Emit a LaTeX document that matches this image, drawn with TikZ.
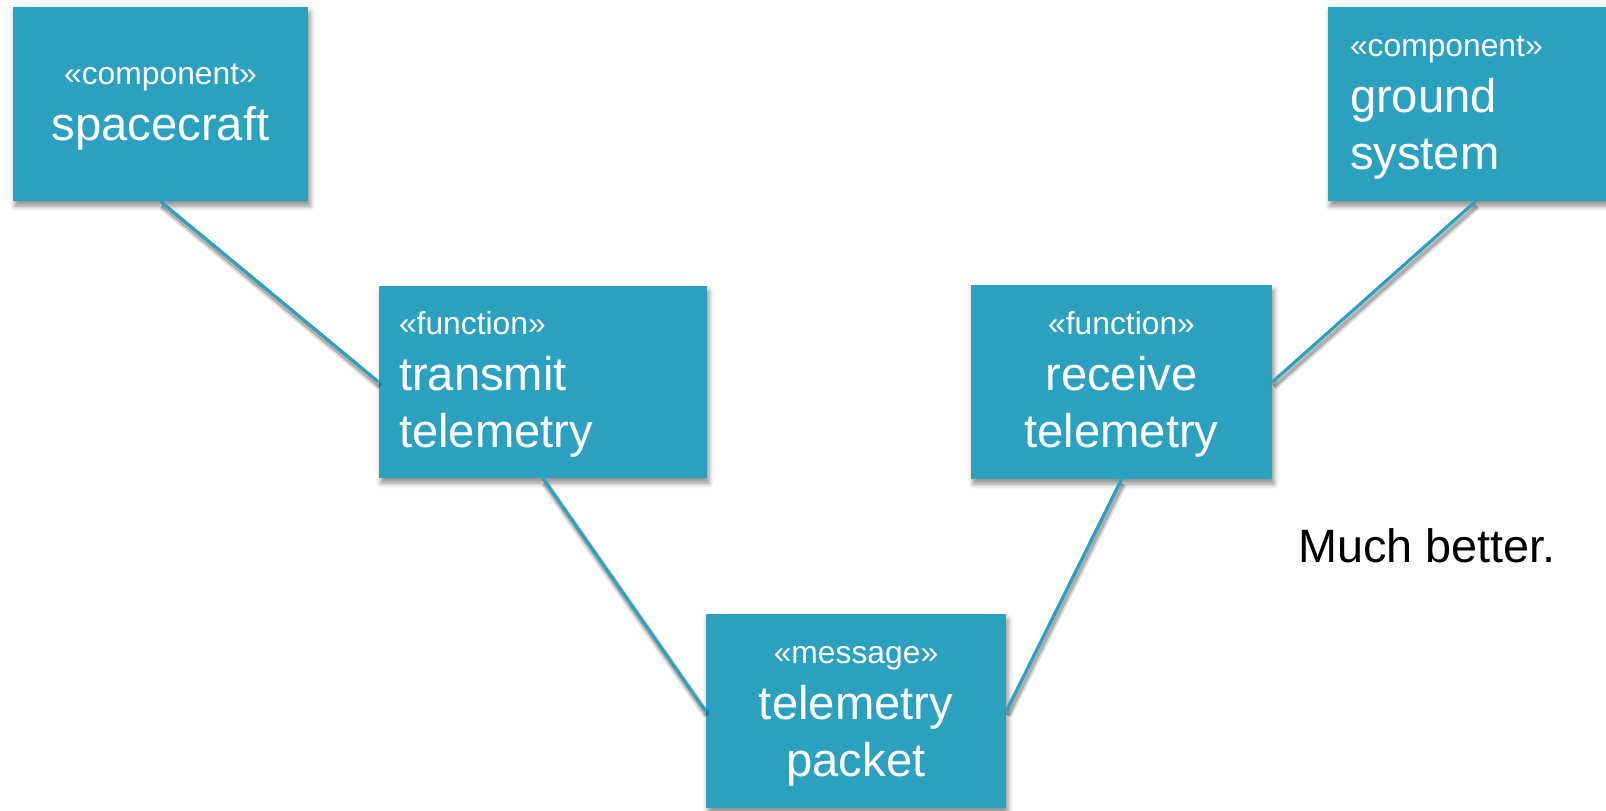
\documentclass[tikz,border=0pt]{standalone}
\usepackage{fontspec}
\setmainfont{Liberation Sans}
\usetikzlibrary{shadows.blur}
\definecolor{tealbox}{RGB}{44,161,191}
\newcommand\lstrut{\rule[-6pt]{0pt}{20.5pt}}
\newcommand\stereo[1]{{\fontsize{15.9}{28.25}\selectfont #1}}
\newcommand\umlconn[2]{%
  \draw[linkshadowwide] ([shift={(1.5,4.5)}]#1) -- ([shift={(1.5,4.5)}]#2);
  \draw[linkshadow] ([shift={(1.5,4.5)}]#1) -- ([shift={(1.5,4.5)}]#2);
  \draw[link] (#1) -- (#2);}
\begin{document}
\begin{tikzpicture}[x=0.5pt,y=-0.5pt,
  umlbox/.style={rectangle, fill=tealbox, text=white, inner ysep=0pt,
    font=\fontsize{23.6}{28.25}\selectfont,
    blur shadow={shadow xshift=1pt, shadow yshift=-2.5pt, shadow blur radius=2.5pt, shadow opacity=45}},
  link/.style={draw=tealbox, line width=1.6pt},
  linkshadow/.style={draw=black, draw opacity=0.22, line width=2pt},
  linkshadowwide/.style={draw=black, draw opacity=0.12, line width=4pt},
  note/.style={anchor=base west, inner sep=0pt, text=black, font=\fontsize{23.4}{28}\selectfont}
]
\useasboundingbox (0,0) rectangle (1606,810);
\clip (0,0) rectangle (1606,810);

\node[umlbox, minimum height=97pt, inner xsep=5pt, text width=137.5pt, align=center]
  (sc) at (160.5,104) {\lstrut\stereo{«component»}\\\lstrut spacecraft};
\node[umlbox, minimum height=97pt, inner xsep=11pt, text width=125.5pt, align=left]
  (gs) at (1475.5,104) {\lstrut\stereo{«component»}\\ground\\\lstrut system};
\node[umlbox, minimum height=96pt, inner xsep=10pt, text width=144pt, align=left]
  (tt) at (543,382) {\lstrut\stereo{«function»}\\transmit\\\lstrut telemetry};
\node[umlbox, minimum height=97pt, inner xsep=5pt, text width=140.5pt, align=center]
  (rt) at (1121.5,382) {\lstrut\stereo{«function»}\\receive\\\lstrut telemetry};
\node[umlbox, minimum height=97pt, inner xsep=5pt, text width=140pt, align=center]
  (tp) at (856,711) {\lstrut\stereo{«message»}\\telemetry\\\lstrut packet};

\node[note] (nb) at (1298,562) {Much better.};

\umlconn{sc.south}{tt.west}
\umlconn{tt.south}{tp.west}
\umlconn{tp.east}{rt.south}
\umlconn{rt.east}{gs.south}
\end{tikzpicture}
\end{document}
